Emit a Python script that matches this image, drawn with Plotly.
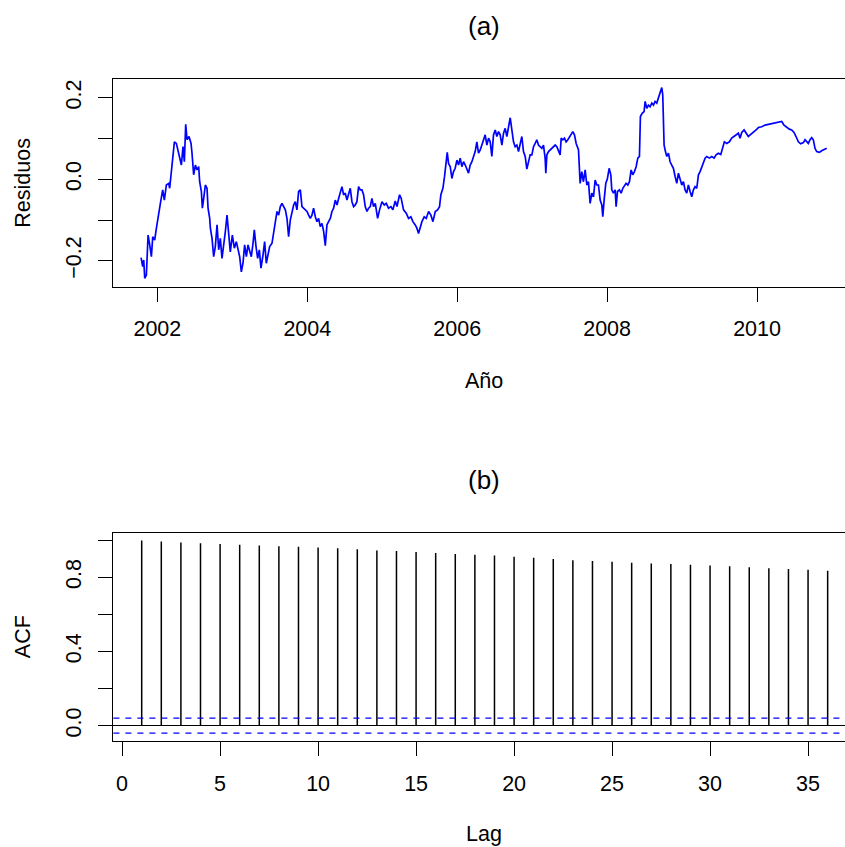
import plotly.graph_objects as go

# ---------------- data ----------------
fecha = [
    2001.782, 2001.804, 2001.818, 2001.831, 2001.853, 2001.876, 2001.898, 2001.920, 2001.938, 2001.964,
    2001.987, 2002.018, 2002.040, 2002.071, 2002.093, 2002.120, 2002.151, 2002.164, 2002.196, 2002.227,
    2002.253, 2002.276, 2002.307, 2002.320, 2002.342, 2002.360, 2002.378, 2002.396, 2002.422, 2002.449,
    2002.462, 2002.484, 2002.507, 2002.529, 2002.551, 2002.564, 2002.587, 2002.600, 2002.618, 2002.640,
    2002.662, 2002.676, 2002.698, 2002.707, 2002.729, 2002.751, 2002.773, 2002.796, 2002.818, 2002.840,
    2002.862, 2002.884, 2002.907, 2002.929, 2002.951, 2002.973, 2003.000, 2003.027, 2003.053, 2003.076,
    2003.098, 2003.120, 2003.142, 2003.164, 2003.187, 2003.209, 2003.231, 2003.253, 2003.276, 2003.293,
    2003.316, 2003.338, 2003.360, 2003.382, 2003.409, 2003.431, 2003.453, 2003.476, 2003.498, 2003.529,
    2003.551, 2003.573, 2003.596, 2003.618, 2003.640, 2003.662, 2003.684, 2003.707, 2003.729, 2003.751,
    2003.773, 2003.796, 2003.818, 2003.840, 2003.862, 2003.884, 2003.907, 2003.929, 2003.951, 2003.973,
    2003.996, 2004.018, 2004.040, 2004.062, 2004.084, 2004.107, 2004.129, 2004.151, 2004.173, 2004.196,
    2004.218, 2004.240, 2004.262, 2004.284, 2004.307, 2004.329, 2004.351, 2004.373, 2004.396, 2004.418,
    2004.440, 2004.462, 2004.484, 2004.507, 2004.529, 2004.551, 2004.573, 2004.596, 2004.618, 2004.640,
    2004.662, 2004.684, 2004.707, 2004.729, 2004.751, 2004.773, 2004.796, 2004.818, 2004.840, 2004.862,
    2004.884, 2004.907, 2004.938, 2004.964, 2004.996, 2005.027, 2005.053, 2005.084, 2005.116, 2005.142,
    2005.173, 2005.196, 2005.231, 2005.253, 2005.284, 2005.320, 2005.351, 2005.382, 2005.409, 2005.440,
    2005.462, 2005.484, 2005.507, 2005.529, 2005.560, 2005.587, 2005.618, 2005.649, 2005.676, 2005.707,
    2005.738, 2005.764, 2005.782, 2005.809, 2005.831, 2005.853, 2005.867, 2005.884, 2005.907, 2005.929,
    2005.951, 2005.973, 2005.996, 2006.018, 2006.040, 2006.062, 2006.084, 2006.107, 2006.129, 2006.151,
    2006.173, 2006.196, 2006.218, 2006.240, 2006.262, 2006.284, 2006.307, 2006.329, 2006.351, 2006.373,
    2006.396, 2006.418, 2006.440, 2006.462, 2006.484, 2006.507, 2006.529, 2006.551, 2006.573, 2006.596,
    2006.618, 2006.640, 2006.662, 2006.684, 2006.707, 2006.729, 2006.751, 2006.773, 2006.796, 2006.818,
    2006.840, 2006.862, 2006.884, 2006.907, 2006.929, 2006.951, 2006.973, 2006.996, 2007.018, 2007.040,
    2007.062, 2007.084, 2007.107, 2007.129, 2007.151, 2007.173, 2007.182, 2007.196, 2007.218, 2007.240,
    2007.262, 2007.284, 2007.307, 2007.329, 2007.351, 2007.373, 2007.387, 2007.409, 2007.431, 2007.453,
    2007.476, 2007.498, 2007.520, 2007.542, 2007.564, 2007.587, 2007.618, 2007.631, 2007.640, 2007.662,
    2007.684, 2007.707, 2007.729, 2007.751, 2007.773, 2007.796, 2007.818, 2007.840, 2007.862, 2007.884,
    2007.907, 2007.929, 2007.942, 2007.960, 2007.982, 2008.004, 2008.027, 2008.049, 2008.062, 2008.084,
    2008.107, 2008.120, 2008.138, 2008.164, 2008.187, 2008.209, 2008.231, 2008.253, 2008.276, 2008.298,
    2008.320, 2008.342, 2008.364, 2008.387, 2008.409, 2008.431, 2008.444, 2008.467, 2008.493, 2008.507,
    2008.529, 2008.551, 2008.573, 2008.596, 2008.618, 2008.640, 2008.662, 2008.684, 2008.707, 2008.729,
    2008.742, 2008.751, 2008.760, 2008.778, 2008.796, 2008.818, 2008.840, 2008.862, 2008.884, 2008.907,
    2008.929, 2008.951, 2008.973, 2008.996, 2009.018, 2009.040, 2009.062, 2009.084, 2009.107, 2009.129,
    2009.151, 2009.173, 2009.196, 2009.218, 2009.240, 2009.276, 2009.307, 2009.329, 2009.364, 2009.396,
    2009.427, 2009.453, 2009.484, 2009.516, 2009.542, 2009.564, 2009.596, 2009.631, 2009.662, 2009.693,
    2009.729, 2009.751, 2009.773, 2009.796, 2009.827, 2009.853, 2009.884, 2009.916, 2009.951, 2009.987,
    2010.018, 2010.062, 2010.107, 2010.151, 2010.196, 2010.240, 2010.284, 2010.329, 2010.360, 2010.396,
    2010.431, 2010.462, 2010.493, 2010.520, 2010.551, 2010.582, 2010.618, 2010.640, 2010.662, 2010.684,
    2010.707, 2010.729, 2010.751, 2010.773, 2010.796, 2010.831, 2010.862, 2010.893, 2010.929,
]

residuos = [
    -0.192, -0.214, -0.198, -0.243, -0.235, -0.137, -0.161, -0.190, -0.141, -0.149,
    -0.120, -0.079, -0.059, -0.026, -0.051, -0.014, -0.010, -0.022, 0.039, 0.092,
    0.088, 0.072, 0.047, 0.035, 0.080, 0.043, 0.135, 0.097, 0.105, 0.088,
    0.064, 0.011, 0.035, 0.023, 0.031, -0.006, -0.030, -0.071, -0.047, -0.014,
    -0.022, -0.071, -0.096, -0.120, -0.145, -0.190, -0.165, -0.112, -0.173, -0.145,
    -0.194, -0.153, -0.128, -0.088, -0.128, -0.178, -0.137, -0.169, -0.153, -0.173,
    -0.190, -0.227, -0.206, -0.161, -0.190, -0.161, -0.178, -0.190, -0.157, -0.124,
    -0.165, -0.194, -0.173, -0.218, -0.186, -0.153, -0.206, -0.186, -0.165, -0.157,
    -0.128, -0.104, -0.079, -0.088, -0.067, -0.059, -0.067, -0.075, -0.096, -0.141,
    -0.100, -0.079, -0.063, -0.055, -0.075, -0.030, -0.026, -0.067, -0.071, -0.075,
    -0.079, -0.088, -0.096, -0.088, -0.071, -0.092, -0.104, -0.096, -0.116, -0.108,
    -0.128, -0.163, -0.112, -0.104, -0.096, -0.079, -0.071, -0.051, -0.063, -0.047,
    -0.034, -0.018, -0.038, -0.034, -0.051, -0.038, -0.022, -0.055, -0.067, -0.063,
    -0.055, -0.018, -0.026, -0.026, -0.038, -0.067, -0.079, -0.071, -0.067, -0.047,
    -0.067, -0.059, -0.096, -0.075, -0.055, -0.063, -0.059, -0.071, -0.067, -0.075,
    -0.053, -0.067, -0.038, -0.047, -0.075, -0.083, -0.096, -0.092, -0.104, -0.112,
    -0.120, -0.133, -0.116, -0.104, -0.092, -0.096, -0.079, -0.088, -0.104, -0.079,
    -0.075, -0.067, -0.038, -0.022, 0.007, 0.043, 0.066, 0.039, 0.031, 0.002,
    0.019, 0.027, 0.047, 0.035, 0.052, 0.031, 0.043, 0.035, 0.027, 0.015,
    0.035, 0.043, 0.056, 0.068, 0.092, 0.064, 0.072, 0.084, 0.097, 0.109,
    0.084, 0.101, 0.092, 0.056, 0.109, 0.121, 0.105, 0.117, 0.109, 0.084,
    0.113, 0.125, 0.105, 0.133, 0.151, 0.121, 0.092, 0.080, 0.084, 0.068,
    0.092, 0.105, 0.068, 0.056, 0.025, 0.043, 0.060, 0.060, 0.080, 0.088,
    0.097, 0.084, 0.080, 0.076, 0.084, 0.052, 0.015, 0.060, 0.068, 0.072,
    0.076, 0.080, 0.084, 0.080, 0.072, 0.060, 0.101, 0.097, 0.101, 0.092,
    0.097, 0.105, 0.109, 0.117, 0.109, 0.088, 0.072, 0.035, -0.010, 0.019,
    -0.006, 0.023, -0.014, -0.006, -0.059, -0.034, -0.043, -0.002, -0.014, -0.014,
    -0.051, -0.063, -0.092, -0.051, -0.010, 0.002, 0.027, 0.011, -0.026, -0.034,
    -0.026, -0.067, -0.030, -0.026, -0.034, -0.022, -0.014, -0.010, -0.014, -0.006,
    0.023, 0.011, 0.019, 0.031, 0.052, 0.056, 0.154, 0.162, 0.166, 0.191,
    0.174, 0.182, 0.178, 0.187, 0.182, 0.191, 0.187, 0.199, 0.211, 0.225,
    0.207, 0.142, 0.084, 0.068, 0.056, 0.064, 0.043, 0.035, 0.027, 0.007,
    -0.010, 0.015, 0.002, -0.014, -0.006, -0.026, -0.034, -0.014, -0.030, -0.043,
    -0.026, -0.018, -0.022, 0.011, 0.019, 0.035, 0.052, 0.056, 0.052, 0.056,
    0.052, 0.060, 0.064, 0.061, 0.080, 0.092, 0.088, 0.092, 0.101, 0.105,
    0.109, 0.113, 0.101, 0.115, 0.121, 0.113, 0.105, 0.110, 0.115, 0.121,
    0.127, 0.129, 0.133, 0.135, 0.136, 0.139, 0.141, 0.142, 0.133, 0.128,
    0.123, 0.121, 0.115, 0.105, 0.092, 0.087, 0.090, 0.097, 0.092, 0.088,
    0.097, 0.102, 0.097, 0.076, 0.068, 0.066, 0.070, 0.072, 0.076,
]

lags = list(range(1, 37))
acf_vals = [
    0.998, 0.993, 0.988, 0.984, 0.980, 0.976, 0.972, 0.968, 0.964, 0.960,
    0.956, 0.951, 0.945, 0.942, 0.936, 0.931, 0.926, 0.922, 0.917, 0.911,
    0.906, 0.898, 0.892, 0.888, 0.884, 0.879, 0.875, 0.872, 0.868, 0.863,
    0.859, 0.854, 0.849, 0.845, 0.840, 0.835,
]
ci_limit = 0.0404

year_ticks = [2002, 2004, 2006, 2008, 2010]
res_ticks = [-0.2, -0.1, 0.0, 0.1, 0.2]
res_ticktext = ["\u22120.2", "", "0.0", "", "0.2"]
acf_ticks = [0.0, 0.2, 0.4, 0.6, 0.8, 1.0]
acf_ticktext = ["0.0", "", "0.4", "", "0.8", ""]
lag_ticks = [0, 5, 10, 15, 20, 25, 30, 35]

# ---------------- figure ----------------
W, H = 845, 847
FONT = "Liberation Sans, Arial, Helvetica, sans-serif"
FS = 21.5

def px_x(p):
    return p / W

def px_y(p):
    return 1 - p / H

fig = go.Figure()

fig.add_trace(go.Scatter(
    x=fecha, y=residuos, mode="lines",
    line=dict(color="#0000FF", width=1.7),
    xaxis="x", yaxis="y", showlegend=False, hoverinfo="skip",
))

# ACF spikes (type="h")
sx, sy = [], []
for l, v in zip(lags, acf_vals):
    sx += [l, l, None]
    sy += [0, v, None]
fig.add_trace(go.Scatter(
    x=sx, y=sy, mode="lines",
    line=dict(color="black", width=1.5),
    xaxis="x2", yaxis="y2", showlegend=False, hoverinfo="skip",
))

x_left = 113.4
dom_x = [px_x(x_left), 1.0]

axis_common = dict(
    showgrid=False, zeroline=False,
    showline=True, linecolor="black", linewidth=1.3,
    ticks="outside", ticklen=14, tickwidth=1.2, tickcolor="black",
    tickfont=dict(family=FONT, size=FS, color="black"),
    automargin=False, fixedrange=True,
)

fig.update_layout(
    width=W, height=H,
    margin=dict(l=0, r=0, t=0, b=0),
    paper_bgcolor="white", plot_bgcolor="white",
    xaxis=dict(
        axis_common, domain=dom_x, anchor="y",
        range=[2001.4133, 2011.1733],
        tickvals=year_ticks, ticktext=[str(v) for v in year_ticks],
        mirror=True, ticklabelstandoff=8,
    ),
    yaxis=dict(
        axis_common, domain=[px_y(287), px_y(79)], anchor="x",
        range=[-0.2643, 0.2461],
        tickvals=res_ticks, ticktext=res_ticktext,
        tickangle=-90, mirror=False, ticklabelstandoff=9,
    ),
    xaxis2=dict(
        axis_common, domain=dom_x, anchor="y2",
        range=[-0.444, 36.885],
        tickvals=lag_ticks, ticktext=[str(v) for v in lag_ticks],
        mirror=True, ticklabelstandoff=9,
    ),
    yaxis2=dict(
        axis_common, domain=[px_y(740.7), px_y(532.7)], anchor="x2",
        range=[-0.0809, 1.0404],
        tickvals=acf_ticks, ticktext=acf_ticktext,
        tickangle=-90, mirror=False, ticklabelstandoff=9,
        zeroline=True, zerolinecolor="black", zerolinewidth=1.2,
    ),
)

# confidence limits (dashed blue)
for lim in (ci_limit, -ci_limit):
    fig.add_shape(type="line", xref="x2 domain", yref="y2",
                  x0=0, x1=1, y0=lim, y1=lim,
                  line=dict(color="#0000FF", width=1.3, dash="6px,6px"))

def label(text, x, y, size=FS, angle=0):
    fig.add_annotation(text=text, x=px_x(x), y=px_y(y), xref="paper", yref="paper",
                       showarrow=False, xanchor="center", yanchor="middle",
                       textangle=angle, font=dict(family=FONT, size=size, color="black"))

label("(a)", 484, 26, size=26)
label("(b)", 484, 479.7, size=26)
label("A\u00f1o", 484, 381)
label("Lag", 484, 834)
label("Residuos", 23, 182.7, angle=-90)
label("ACF", 22.5, 636.7, angle=-90)

fig.write_html(
    "out.html",
    config={"displayModeBar": False},
    post_script="document.body.style.margin='0';document.body.style.overflow='hidden';",
)
